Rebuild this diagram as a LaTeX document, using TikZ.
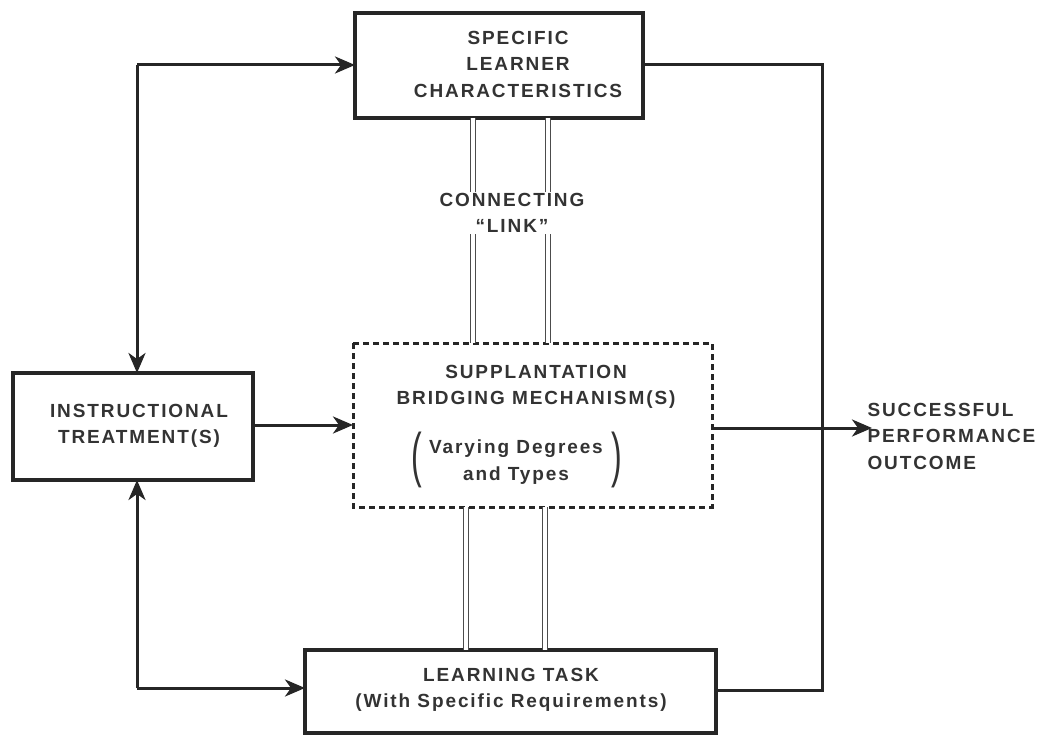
\documentclass[tikz,border=0pt]{standalone}
\usepackage{fontspec}
\setmainfont{Liberation Sans}[LetterSpace=10]
\usetikzlibrary{arrows.meta}
\begin{document}
\begin{tikzpicture}[x=1pt,y=-1pt,
  box/.style={draw=black!85,line width=3.5pt,inner sep=0pt},
  dbox/.style={draw=black!85,line width=3pt,dash pattern=on 6pt off 4pt,inner sep=0pt},
  lab/.style={font=\bfseries\fontsize{19}{26.5}\selectfont,text=black!80,align=center},
  paren/.style={font=\fontsize{40}{40}\selectfont,text=black!80,yscale=1.5,xscale=0.8},
  conn/.style={line width=3pt,draw=black!85},
  arr/.style={conn,-{Stealth[length=20pt,width=17pt,inset=6pt]}},
  dbl/.style={draw=black!70,double=white,double distance=4pt,line width=1.3pt}]
\useasboundingbox (0,0) rectangle (1064,735);
% boxes
\draw[box] (355,13) rectangle (643,118);
\node[lab] (slc) at (518,64) {SPECIFIC\\LEARNER\\CHARACTERISTICS};
\coordinate (slcL) at (355,65);
\coordinate (slcR) at (643,65);
\draw[box] (13,373) rectangle (253,480);
\node[lab] (it) at (139,426) {INSTRUCTIONAL\\TREATMENT(S)};
\coordinate (itT) at (137,373);
\coordinate (itB) at (137,480);
\coordinate (itR) at (253,425);
\draw[dbox] (353,343) rectangle (712,507);
\node[lab] (sb) at (536,387) {SUPPLANTATION\\BRIDGING MECHANISM(S)};
\node[lab] (vd) at (516,462) {Varying Degrees\\and Types};
\node[paren] (pl) at (417,460) {(};
\node[paren] (pr) at (617,460) {)};
\coordinate (sbL) at (353,425);
\coordinate (sbR) at (712,428);
\draw[box] (305,650) rectangle (716,733);
\node[lab] (lt) at (511,690) {LEARNING TASK\\(With Specific Requirements)};
\coordinate (ltL) at (305,688);
\coordinate (ltR) at (716,690);
% corners
\coordinate (tl) at (137,65);
\coordinate (bl) at (137,688);
\coordinate (tr) at (822,65);
\coordinate (br) at (822,690);
% connectors
\draw[arr] (tl) -- (slcL);
\draw[arr] (tl) -- (itT);
\draw[arr] (bl) -- (ltL);
\draw[arr] (bl) -- (itB);
\draw[arr] (itR) -- (sbL);
\draw[conn] (slcR) -- (tr) -- (br) -- (ltR);
\node[lab,align=left,anchor=west] (out) at (864,436) {SUCCESSFUL\\PERFORMANCE\\OUTCOME};
\coordinate (outA) at (872,428);
\draw[arr] (sbR) -- (outA);
% double links
\draw[dbl] (473,118) -- (473,343);
\draw[dbl] (548,118) -- (548,343);
\draw[dbl] (466,507) -- (466,650);
\draw[dbl] (545,507) -- (545,650);
\node[lab,fill=white,inner sep=1pt] (cl) at (512,213) {CONNECTING\\``LINK''};
\end{tikzpicture}
\end{document}
